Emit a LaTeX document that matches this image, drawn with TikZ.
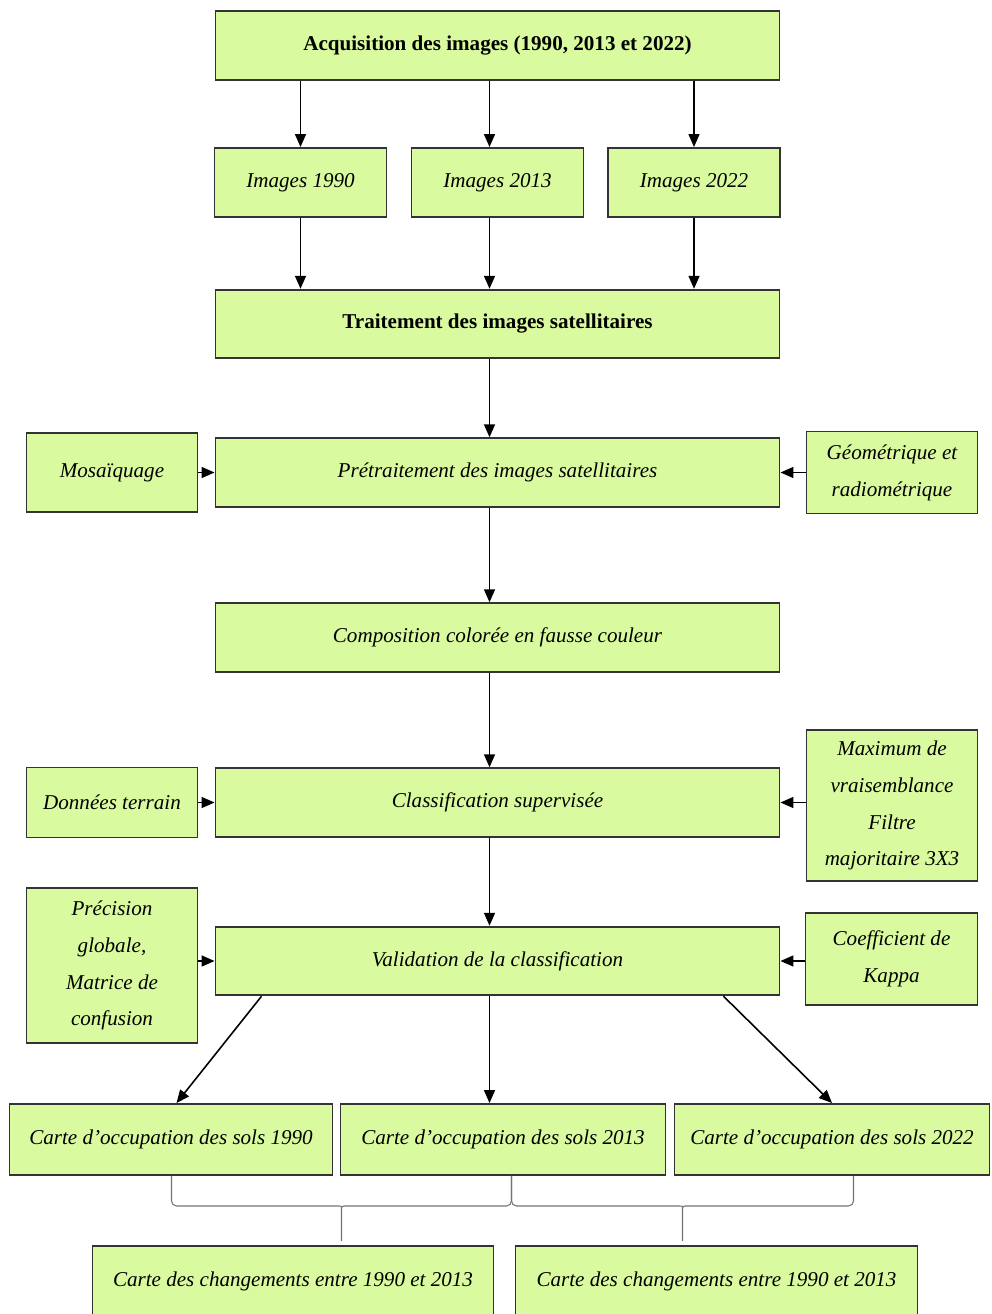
\documentclass[tikz,border=0pt]{standalone}
\usepackage{fontspec}
\setmainfont{Liberation Serif}
\usetikzlibrary{positioning,arrows.meta,calc}
\definecolor{boxgreen}{RGB}{217,250,158}

\begin{document}
\begin{tikzpicture}[node distance=3cm,on grid,>={Triangle[length=2.6mm,width=2.2mm]},
  box/.style={draw=black!80,line width=1.1pt,fill=boxgreen,align=center,inner sep=2pt,
    font=\fontsize{12}{21}\selectfont\itshape},
  bold/.style={font=\fontsize{12}{21}\selectfont\bfseries},
  mainbox/.style={box,minimum width=11.28cm,minimum height=1.37cm},
  imgbox/.style={box,minimum width=3.44cm,minimum height=1.38cm},
  sidebox/.style={box,minimum width=3.42cm},
  cartebox/.style={box,minimum height=1.42cm},
  brace/.style={draw=black!55,line width=0.6pt,rounded corners=1mm}]
\useasboundingbox (0,0) rectangle (19.82,-26.28);

\node[mainbox,bold] (acq) at (9.95,-0.91) {Acquisition des images (1990, 2013 et 2022)};
\node[imgbox] (img13) [below=2.74cm of acq] {Images 2013};
\node[imgbox] (img90) [left=3.94cm of img13] {Images 1990};
\node[imgbox] (img22) [right=3.93cm of img13] {Images 2022};
\node[mainbox,bold] (trait) [below=2.83cm of img13] {Traitement des images satellitaires};
\node[mainbox] (pretrait) [below=2.97cm of trait] {Prétraitement des images satellitaires};
\node[sidebox,minimum height=1.58cm] (mosa) [left=7.71cm of pretrait] {Mosaïquage};
\node[sidebox,minimum height=1.64cm] (geom) [right=7.89cm of pretrait] {Géométrique et\\radiométrique};
\node[mainbox] (compo) [below=3.3cm of pretrait] {Composition colorée en fausse couleur};
\node[mainbox] (classif) [below=3.3cm of compo] {Classification supervisée};
\node[sidebox,minimum height=1.4cm] (terrain) [left=7.71cm of classif] {Données terrain};
\node[sidebox,minimum height=3.02cm] (maxv) [right=7.89cm of classif,yshift=-0.6mm] {Maximum de\\vraisemblance\\Filtre\\majoritaire 3X3};
\node[mainbox] (valid) [below=3.17cm of classif] {Validation de la classification};
\node[sidebox,minimum height=3.1cm] (prec) [left=7.71cm of valid,yshift=-0.9mm] {Précision\\globale,\\Matrice de\\confusion};
\node[sidebox,minimum width=3.44cm,minimum height=1.84cm] (kappa) [right=7.88cm of valid,yshift=0.4mm] {Coefficient de\\Kappa};
\node[cartebox,minimum width=6.5cm] (c13) [below=3.57cm of valid,xshift=1.1mm] {Carte d’occupation des sols 2013};
\node[cartebox,minimum width=6.46cm] (c90) [left=6.64cm of c13] {Carte d’occupation des sols 1990};
\node[cartebox,minimum width=6.3cm] (c22) [right=6.58cm of c13] {Carte d’occupation des sols 2022};
\node[cartebox,minimum width=8.02cm] (chg1) [below left=2.84cm and 4.2cm of c13] {Carte des changements entre 1990 et 2013};
\node[cartebox,minimum width=8.04cm] (chg2) [below right=2.84cm and 4.27cm of c13] {Carte des changements entre 1990 et 2013};

\path[->,line width=0.9pt]
    (acq.south -| img90) edge (img90)
    ([xshift=-1.6mm]acq.south) edge ([xshift=-1.6mm]img13.north)
    (acq.south -| img22) edge (img22)
    (img90) edge (trait.north -| img90)
    ([xshift=-1.6mm]img13.south) edge ([xshift=-1.6mm]trait.north)
    (img22) edge (trait.north -| img22)
    ([xshift=-1.6mm]trait.south) edge ([xshift=-1.6mm]pretrait.north)
    ([xshift=-1.6mm]pretrait.south) edge ([xshift=-1.6mm]compo.north)
    ([xshift=-1.6mm]compo.south) edge ([xshift=-1.6mm]classif.north)
    ([xshift=-1.6mm]classif.south) edge ([xshift=-1.6mm]valid.north)
    ([xshift=-1.6mm]valid.south) edge ([xshift=-1.6mm]valid.south |- c13.north)
    ([xshift=9.4mm]valid.south west) edge ([xshift=1.1mm]c90.north)
    ([xshift=-11.4mm]valid.south east) edge (c22.north)
    (mosa) edge (pretrait)
    (geom.west) edge (geom.west -| pretrait.east)
    (terrain) edge (classif)
    (maxv.west |- classif) edge (classif)
    (prec.east |- valid) edge (valid)
    (kappa.west |- valid) edge (valid)
    ;

% accolades sous les cartes
\coordinate (bl) at ([xshift=0.1mm]c90.south);
\coordinate (bmid) at ([xshift=1.7mm]c13.south);
\coordinate (br) at ([xshift=4.3mm]c22.south);
\coordinate (top1) at ($(bl)!0.5!(bmid)+(0,-0.6)$);
\coordinate (top2) at ($(bmid)!0.5!(br)+(0,-0.6)$);
\coordinate (tip1) at ($(top1)+(0,-0.7)$);
\coordinate (tip2) at ($(top2)+(0,-0.7)$);
\draw[brace] (bl) |- ([xshift=-1.5mm]top1) .. controls (top1) .. ([yshift=-1.5mm]top1) -- (tip1)
    ([yshift=-1.5mm]top1) .. controls (top1) .. ([xshift=1.5mm]top1) -| (bmid);
\draw[brace] (bmid) |- ([xshift=-1.5mm]top2) .. controls (top2) .. ([yshift=-1.5mm]top2) -- (tip2)
    ([yshift=-1.5mm]top2) .. controls (top2) .. ([xshift=1.5mm]top2) -| (br);
\end{tikzpicture}
\end{document}
